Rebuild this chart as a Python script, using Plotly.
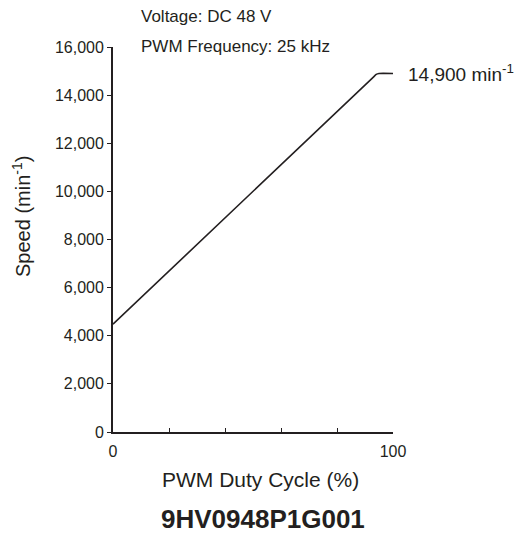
import plotly.graph_objects as go

# Data
duty = [0, 93, 94, 95, 100]
speed = [4480, 14750, 14860, 14900, 14900]
x_ticks = [0, 20, 40, 60, 80, 100]
x_ticktext = ["0", "", "", "", "", "100"]
y_ticks = [0, 2000, 4000, 6000, 8000, 10000, 12000, 14000, 16000]
y_ticktext = ["0", "2,000", "4,000", "6,000", "8,000", "10,000", "12,000", "14,000", "16,000"]

ink = "#231f20"
sans = "Liberation Sans, Arial, sans-serif"

# plot area in page pixels: x 113..393, y 47..432 (page has an 8px body offset)
L, R, T, B = 113, 393, 47, 432
W, H = R - L, B - T
def px(x):
    return (x - L) / W
def py(y):
    return (B - y) / H

fig = go.Figure()
fig.add_trace(go.Scatter(x=duty, y=speed, mode="lines",
                         line=dict(color=ink, width=1.6, shape="spline", smoothing=0.3),
                         hoverinfo="skip", cliponaxis=False))

fig.update_layout(
    width=523, height=533,
    margin=dict(l=L - 8, r=523 - R + 8, t=T - 8, b=533 - B + 8),
    paper_bgcolor="white", plot_bgcolor="white",
    showlegend=False,
    xaxis=dict(range=[0, 100], tickvals=x_ticks, ticktext=x_ticktext,
               showgrid=False, zeroline=False, showline=True, linecolor=ink, linewidth=1.8,
               ticks="inside", ticklen=4, tickcolor=ink, tickwidth=1.2,
               ticklabelstandoff=4,
               tickfont=dict(family=sans, size=16, color=ink)),
    yaxis=dict(range=[0, 16000], tickvals=y_ticks, ticktext=y_ticktext,
               showgrid=False, zeroline=False, showline=True, linecolor=ink, linewidth=1.8,
               ticks="outside", ticklen=4, tickcolor=ink, tickwidth=1.2,
               tickfont=dict(family=sans, size=16, color=ink)),
)

fig.add_annotation(x=100, y=14900, xref="x", yref="y", xanchor="left", yanchor="middle",
                   xshift=13, showarrow=False,
                   text="14,900 min<sup>-1</sup>", font=dict(family=sans, size=19, color=ink))
fig.add_annotation(x=px(139), y=py(17), xref="paper", yref="paper", xanchor="left", yanchor="middle",
                   showarrow=False, text="Voltage: DC 48 V", font=dict(family=sans, size=17, color=ink))
fig.add_annotation(x=px(139), y=py(46), xref="paper", yref="paper", xanchor="left", yanchor="middle",
                   showarrow=False, text="PWM Frequency: 25 kHz", font=dict(family=sans, size=17, color=ink))
fig.add_annotation(x=px(21), y=py(217), xref="paper", yref="paper", xanchor="center", yanchor="middle",
                   showarrow=False, textangle=-90, text="Speed (min<sup>-1</sup>)",
                   font=dict(family=sans, size=20, color=ink))
fig.add_annotation(x=px(260), y=py(479), xref="paper", yref="paper", xanchor="center", yanchor="middle",
                   showarrow=False, text="PWM Duty Cycle (%)", font=dict(family=sans, size=21, color=ink))
fig.add_annotation(x=px(263), y=py(519), xref="paper", yref="paper", xanchor="center", yanchor="middle",
                   showarrow=False, text="<b>9HV0948P1G001</b>", font=dict(family=sans, size=26, color=ink))

fig.write_html("out.html")
